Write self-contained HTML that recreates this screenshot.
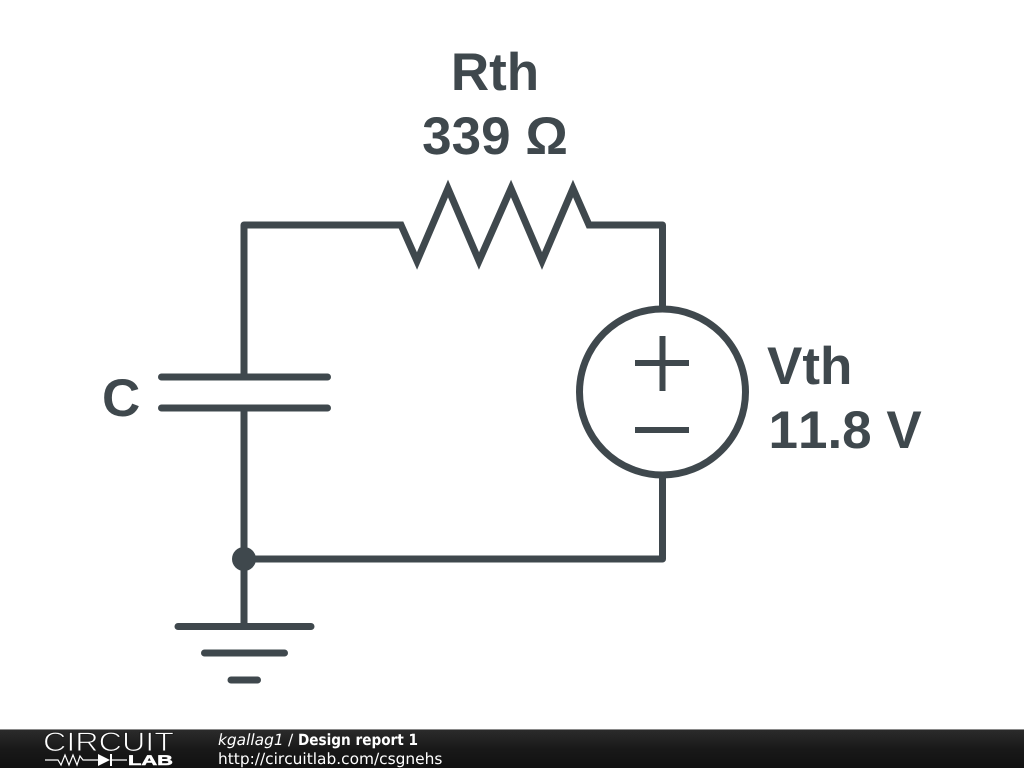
<!DOCTYPE html>
<html><head><meta charset="utf-8"><style>
html,body{margin:0;padding:0;background:#fff;width:1024px;height:768px;overflow:hidden}
svg{display:block}
text{text-rendering:geometricPrecision;font-kerning:none}
</style></head><body>
<svg width="1024" height="768" viewBox="0 0 1024 768" xmlns="http://www.w3.org/2000/svg">
<defs><linearGradient id="g" x1="0" y1="0" x2="0" y2="1"><stop offset="0" stop-color="#2c2c2c"/><stop offset="0.5" stop-color="#191919"/><stop offset="1" stop-color="#111"/></linearGradient></defs>
<rect width="1024" height="768" fill="#fff"/>
<g fill="none" stroke="#3f484d" stroke-width="7" stroke-miterlimit="10">
<path d="M244 377V225H401" stroke-linejoin="round"/>
<path d="M589 225H662.500V308" stroke-linejoin="round"/>
<path d="M400 225H401L417 261L448 188.500L479 261L511 188.500L542 261L573 188.500L589 225H590"/>
<path d="M244 408V626M244 559H662.500V476" stroke-linejoin="round"/>
<circle cx="662.500" cy="392" r="83"/>
<path d="M635 363H689M662.500 336V391M635 430H689" stroke-width="6"/>
<path d="M161.500 377H327.500M161.500 408H327.500M178 626.500H311M204.500 653H284.500M231 680H257.500" stroke-linecap="round"/>
</g>
<circle cx="244" cy="559" r="12" fill="#3f484d"/>
<g font-family="'Liberation Sans',sans-serif" font-weight="700" font-size="53" fill="#3f484d">
<text x="495" y="90" text-anchor="middle">Rth</text>
<text x="495" y="154" text-anchor="middle">339 Ω</text>
<text x="767" y="384">Vth</text>
<text x="768.500" y="448">11.8 V</text>
<text x="102" y="416">C</text>
</g>
<rect y="729" width="1024" height="39" fill="url(#g)"/>
<rect y="729" width="1024" height="1" fill="#8a8a8a"/>
<text x="43" y="751" font-family="'Liberation Sans',sans-serif" font-size="27" fill="#fff" stroke="#1d1d1d" stroke-width="0.9" textLength="131" lengthAdjust="spacingAndGlyphs">CIRCUIT</text>
<path d="M45 760H58L61 765L65 755L69 765L73 755L77 765L80 756L83 760H98M112 760H127" fill="none" stroke="#fff" stroke-width="1.200"/>
<path d="M98 754V766L110 760Z" fill="#fff"/><path d="M111 754V766" stroke="#fff" stroke-width="2"/>
<text x="128" y="765" font-family="'Liberation Sans',sans-serif" font-weight="700" font-size="14" fill="#fff" stroke="#fff" stroke-width="0.5" textLength="45" lengthAdjust="spacingAndGlyphs">LAB</text>
<g font-family="'DejaVu Sans',sans-serif" font-size="15.400" fill="#fff">
<text x="218" y="745" font-style="italic">kgallag1</text>
<text x="288" y="745">/</text>
<text x="298" y="745" font-weight="700" textLength="120" lengthAdjust="spacingAndGlyphs">Design report 1</text>
<text x="218" y="764">http://circuitlab.com/csgnehs</text>
</g>
</svg>
</body></html>
